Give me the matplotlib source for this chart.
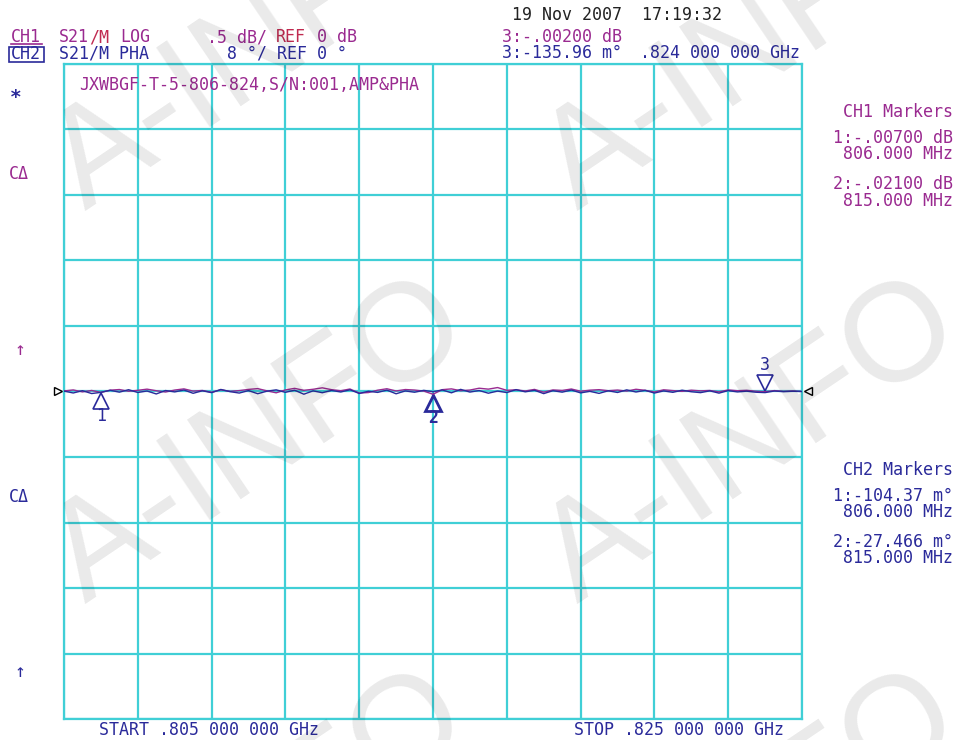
import matplotlib.pyplot as plt
import numpy as np
from matplotlib.lines import Line2D
from matplotlib.patches import Rectangle
from matplotlib.transforms import ScaledTranslation, blended_transform_factory

# sweep setup (MHz), 81 points
start_mhz = 805.0
stop_mhz = 825.0
n_points = 81

# CH1: S21 log magnitude (dB), 0.5 dB/div, ref 0 dB
ch1_db = [0.004, 0.012, -0.003, 0.008, -0.007, 0.010, 0.015, 0.002, 0.009, 0.018,
          0.006, -0.004, 0.011, 0.020, 0.003, 0.008, -0.006, 0.013, 0.001, 0.007,
          0.016, 0.022, 0.005, -0.010, 0.012, 0.024, 0.009, 0.017, 0.028, 0.014,
          0.006, 0.019, -0.012, -0.008, 0.010, 0.021, 0.004, 0.015, 0.011, 0.003,
          -0.021,
          0.014, 0.020, 0.006, 0.011, 0.025, 0.018, 0.030, 0.009, 0.013,
          0.004, 0.016, -0.005, 0.012, 0.008, 0.019, 0.002, 0.010, 0.014, 0.006,
          0.011, 0.003, 0.017, 0.009, -0.004, 0.013, 0.007, 0.001, 0.010, 0.005,
          0.008, -0.003, 0.012, 0.006, 0.009, 0.002, -0.002, 0.007, 0.001, 0.004,
          0.000]

# CH2: S21 phase (deg), 8 deg/div, ref 0 deg
ch2_deg = [0.05, -0.18, 0.10, -0.25, -0.104, 0.15, -0.08, 0.22, -0.12, 0.06,
           -0.30, 0.12, -0.05, 0.18, -0.22, 0.09, -0.14, 0.25, -0.02, -0.19,
           0.11, -0.27, 0.04, 0.20, -0.10, 0.16, -0.33, 0.08, -0.15, 0.13,
           -0.06, 0.21, -0.24, 0.03, -0.11, 0.17, -0.28, 0.07, -0.09, 0.14,
           -0.027,
           0.19, -0.16, 0.26, -0.07, 0.12, -0.21, 0.05, -0.13, 0.23,
           -0.04, 0.15, -0.26, 0.10, -0.08, 0.18, -0.17, 0.02, -0.23, 0.09,
           -0.12, 0.20, -0.06, 0.14, -0.19, 0.07, -0.10, 0.16, -0.03, -0.14,
           0.08, -0.20, 0.11, -0.05, 0.04, -0.09, -0.136, 0.06, -0.02, 0.03,
           0.00]

# markers: number, frequency (MHz), index into sweep
marker_ids = [1, 2, 3]
marker_freqs = [806.0, 815.0, 824.0]
marker_idx = [4, 40, 76]

freq = np.linspace(start_mhz, stop_mhz, n_points)

PURPLE = '#9a2a90'
RED = '#c02a50'
BLUE = '#2a2a9a'
GRID = '#40cfd6'
MONO = 'DejaVu Sans Mono'

W, H = 957, 740
fig = plt.figure(figsize=(W / 100, H / 100), dpi=100)


def px(x, y):
    return x / W, 1 - y / H


def label(x, y, s, color, ha='left', size=12, **kw):
    fx, fy = px(x, y)
    return fig.text(fx, fy, s, color=color, ha=ha, va='center',
                    family=MONO, fontsize=size, **kw)


# graticule
gl, gt, gr, gb = 64, 64, 802, 719
ax = fig.add_axes([gl / W, 1 - gb / H, (gr - gl) / W, (gb - gt) / H])
ax.set_facecolor('none')
ax.set_xlim(start_mhz, stop_mhz)
ax.set_ylim(-2.5, 2.5)
ax.set_xticks(np.arange(805, 826, 2))
ax.set_yticks(np.arange(-2.5, 2.51, 0.5))
ax.tick_params(length=0, labelbottom=False, labelleft=False)
ax.grid(True, color=GRID, linewidth=1.6)
for sp in ax.spines.values():
    sp.set_color(GRID)
    sp.set_linewidth(1.6)

ax2 = ax.twinx()
ax2.set_ylim(-40, 40)
ax2.set_yticks([])
for sp in ax2.spines.values():
    sp.set_visible(False)

ax.plot(freq, ch1_db, color=PURPLE, linewidth=1.0, zorder=3)
ax2.plot(freq, ch2_deg, color=BLUE, linewidth=1.0, zorder=3)

# reference position indicators
ref = blended_transform_factory(ax.transAxes, ax.transData)
ax.plot([0], [0], marker='>', markersize=6, mfc='none', mec='black', mew=1,
        transform=ref + ScaledTranslation(-0.06, 0, fig.dpi_scale_trans), clip_on=False)
ax.plot([1], [0], marker='<', markersize=6, mfc='none', mec='black', mew=1,
        transform=ref + ScaledTranslation(0.06, 0, fig.dpi_scale_trans), clip_on=False)

# trace markers
for n, f, i in zip(marker_ids, marker_freqs, marker_idx):
    v = ch1_db[i]
    if n == 3:
        ax.plot(f, v, marker='v', markersize=12, mfc='none', mec=BLUE, mew=1.2,
                transform=ax.transData + ScaledTranslation(0, 0.085, fig.dpi_scale_trans))
        ax.annotate(str(n), (f, v), xytext=(0, 27), textcoords='offset pixels',
                    ha='center', va='center', color=BLUE, family=MONO, fontsize=12)
    else:
        ax.plot(f, v, marker='^', markersize=12, mfc='none', mec=BLUE,
                mew=2.0 if n == 2 else 1.2,
                transform=ax.transData + ScaledTranslation(0, -0.085, fig.dpi_scale_trans))
        ax.annotate(str(n), (f, v), xytext=(0, -24), textcoords='offset pixels',
                    ha='center', va='center', color=BLUE, family=MONO, fontsize=12,
                    fontweight='bold' if n == 2 else 'normal')

# header
label(512, 15, '19 Nov 2007  17:19:32', '#222222')
label(11, 37, 'CH1', PURPLE)
fig.add_artist(Line2D([11 / W, 42 / W], [1 - 44 / H, 1 - 44 / H], color=PURPLE, linewidth=1.2))
label(59, 37, 'S21', PURPLE)
label(89, 37, '/M', RED)
label(120, 37, 'LOG', PURPLE)
label(207, 37, '.5 dB/', PURPLE)
label(276, 37, 'REF', RED)
label(317, 37, '0 dB', PURPLE)
label(11, 54, 'CH2', BLUE)
fig.add_artist(Rectangle((9 / W, 1 - 62 / H), 35 / W, 15 / H, fill=False,
                         edgecolor=BLUE, linewidth=1.2))
label(59, 54, 'S21/M PHA', BLUE)
label(227, 54, '8 °/ REF 0 °', BLUE)
label(502, 37, '3:-.00200 dB', PURPLE)
label(502, 53, '3:-135.96 m°', BLUE)
label(640, 53, '.824 000 000 GHz', BLUE)
label(79, 85, 'JXWBGF-T-5-806-824,S/N:001,AMP&PHA', PURPLE)

# left annotations
label(10, 97, '*', BLUE, fontweight='bold', size=14)
label(9, 174, 'CΔ', PURPLE)
label(15, 350, '↑', PURPLE, size=13)
label(9, 497, 'CΔ', BLUE)
label(15, 672, '↑', BLUE, size=13)

# marker readouts
rx = 953
label(rx, 112, 'CH1 Markers', PURPLE, ha='right')
label(rx, 138, '1:-.00700 dB', PURPLE, ha='right')
label(rx, 154, '806.000 MHz', PURPLE, ha='right')
label(rx, 184, '2:-.02100 dB', PURPLE, ha='right')
label(rx, 201, '815.000 MHz', PURPLE, ha='right')
label(rx, 470, 'CH2 Markers', BLUE, ha='right')
label(rx, 496, '1:-104.37 m°', BLUE, ha='right')
label(rx, 512, '806.000 MHz', BLUE, ha='right')
label(rx, 542, '2:-27.466 m°', BLUE, ha='right')
label(rx, 558, '815.000 MHz', BLUE, ha='right')

# sweep limits
label(99, 730, 'START .805 000 000 GHz', BLUE)
label(574, 730, 'STOP .825 000 000 GHz', BLUE)

# watermark
for cx in (260, 752):
    for cy in (50, 443, 836):
        fx, fy = px(cx, cy)
        fig.text(fx, fy, 'A-INFO', rotation=34, rotation_mode='anchor',
                 ha='center', va='center', fontsize=100, family='Liberation Sans',
                 color='black', alpha=0.085, zorder=10)

fig.savefig('out.png', dpi=100)
